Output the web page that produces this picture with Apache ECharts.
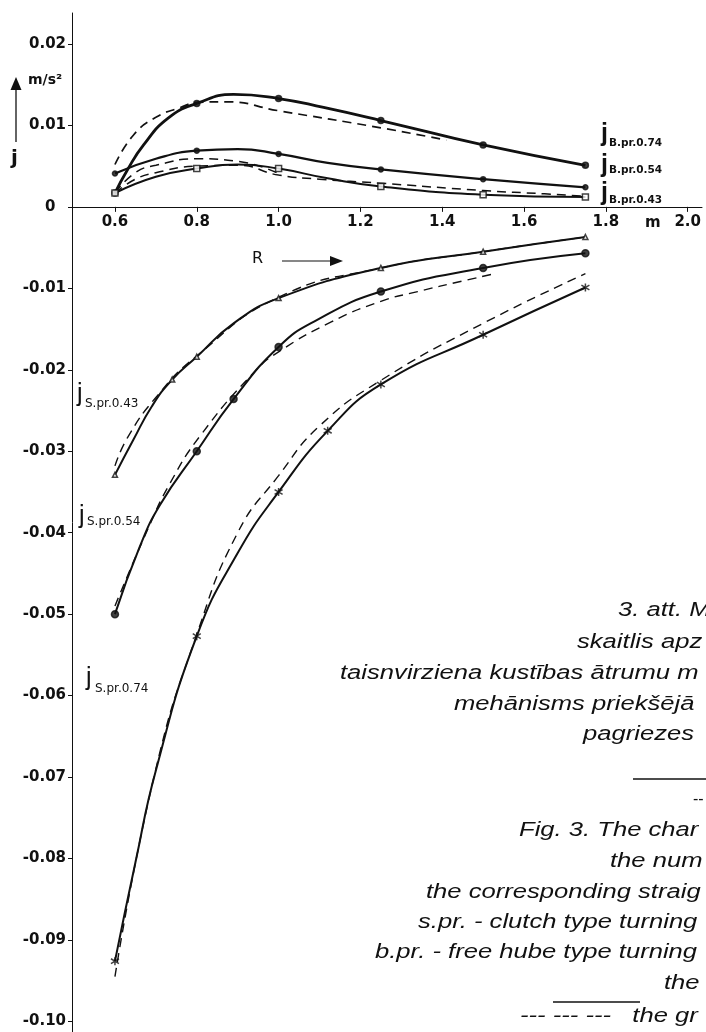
<!DOCTYPE html>
<html><head><meta charset="utf-8">
<script src="https://cdn.jsdelivr.net/npm/echarts@6/dist/echarts.min.js"></script>
<style>html,body{margin:0;padding:0;background:#fff}#c{width:706px;height:1032px}</style>
</head><body><div id="c"></div>
<script>
// ---- tick labels ----
const xTicks = [0.6, 0.8, 1.0, 1.2, 1.4, 1.6, 1.8, 2.0];
const yTicks = [0.02, 0.01, 0, -0.01, -0.02, -0.03, -0.04, -0.05, -0.06, -0.07, -0.08, -0.09, -0.10];

// ---- measured radii (marker positions) ----
const markR = [0.6, 0.8, 1.0, 1.25, 1.5, 1.75];

// ---- free hub type (B.pr.) : solid = theory, dashed = graph ----
const xB74 = [0.6, 0.63, 0.67, 0.73, 0.8, 0.89, 1.0, 1.11, 1.25, 1.5, 1.75];
const yB74 = [0.0017, 0.0045, 0.0076, 0.0109, 0.0127, 0.0138, 0.0133, 0.0122, 0.0106, 0.0076, 0.0051];
const xB74d = [0.6, 0.645, 0.7, 0.76, 0.8, 0.87, 1.0, 1.25, 1.41];
const yB74d = [0.0052, 0.0088, 0.0110, 0.0122, 0.0128, 0.0129, 0.0118, 0.0097, 0.0082];

const xB54 = [0.6, 0.7, 0.8, 0.9, 1.0, 1.12, 1.25, 1.5, 1.75];
const yB54 = [0.0041, 0.0059, 0.0069, 0.0071, 0.0065, 0.0054, 0.0046, 0.0034, 0.0024];
const xB54d = [0.6, 0.65, 0.7, 0.8, 0.9, 1.0];
const yB54d = [0.0017, 0.0042, 0.0051, 0.0059, 0.0056, 0.0041];

const xB43 = [0.6, 0.7, 0.8, 0.9, 1.0, 1.12, 1.25, 1.5, 1.75];
const yB43 = [0.0017, 0.0037, 0.0047, 0.0052, 0.0047, 0.0035, 0.0025, 0.0015, 0.0012];
const xB43d = [0.6, 0.65, 0.7, 0.8, 0.9, 1.0, 1.1, 1.25, 1.5, 1.65, 1.75];
const yB43d = [0.0017, 0.0034, 0.0042, 0.0050, 0.0051, 0.0039, 0.0034, 0.0029, 0.0020, 0.0016, 0.0013];

// ---- clutch type (S.pr.) ----
const xS43 = [0.6, 0.645, 0.69, 0.74, 0.8, 0.89, 1.0, 1.25, 1.5, 1.75];
const yS43 = [-0.0329, -0.0286, -0.0245, -0.0212, -0.0184, -0.0143, -0.0112, -0.0075, -0.0055, -0.0037];
const xS43d = [0.6, 0.63, 0.7, 0.8, 1.0, 1.25, 1.5, 1.75];
const yS43d = [-0.0318, -0.0284, -0.0234, -0.0183, -0.0111, -0.0075, -0.0055, -0.0037];

const xS54 = [0.6, 0.66, 0.71, 0.8, 0.89, 1.0, 1.09, 1.25, 1.5, 1.75];
const yS54 = [-0.0500, -0.0418, -0.0366, -0.0300, -0.0236, -0.0172, -0.0140, -0.0104, -0.0075, -0.0057];
const xS54d = [0.6, 0.68, 0.735, 0.81, 0.94, 1.0, 1.13, 1.25, 1.34, 1.45, 1.52];
const yS54d = [-0.0490, -0.0396, -0.0339, -0.0280, -0.0203, -0.0178, -0.0141, -0.0116, -0.0104, -0.0091, -0.0083];

const xS74 = [0.6, 0.65, 0.7, 0.8, 0.9, 1.0, 1.12, 1.25, 1.5, 1.75];
const yS74 = [-0.0926, -0.0805, -0.0692, -0.0527, -0.0425, -0.0350, -0.0275, -0.0218, -0.0157, -0.0099];
const xS74d = [0.6, 0.7, 0.8, 0.9, 1.0, 1.1, 1.25, 1.5, 1.75];
const yS74d = [-0.0945, -0.0690, -0.0525, -0.0400, -0.0330, -0.0269, -0.0213, -0.0143, -0.0082];

// ---- caption text ----
const captionLines = [
  'taisnvirziena kustības ātrumu m',
  '3. att. M', 'skaitlis apz', 'mehānisms priekšējā', 'pagriezes',
  'Fig. 3. The char', 'the num', 'the corresponding straig',
  's.pr. - clutch type turning', 'b.pr. - free hube type turning', 'the', '--- --- ---   the gr'
];

const INK = '#111';
function pairs(xs, ys) { return xs.map((x, i) => [x, ys[i]]); }
function curve(xs, ys, width, dashed) {
  return {
    type: 'line', data: pairs(xs, ys), smooth: 0.5,
    showSymbol: false, symbol: 'none', silent: true,
    lineStyle: { color: INK, width: width, type: dashed ? [9, 6] : 'solid' }, z: dashed ? 2 : 3
  };
}
function marks(xs, ys, list, symbol, size, filled) {
  return {
    type: 'scatter', data: pairs(xs, ys).filter(p => list.includes(p[0])),
    symbol: symbol, symbolSize: size, silent: true, z: 5,
    itemStyle: { color: filled ? INK : '#fff', borderColor: INK, borderWidth: 1.5 }
  };
}
const star = 'path://M5,0L5,10M0,2L10,8M0,8L10,2';

const series = [
  curve(xB74d, yB74d, 1.7, true), curve(xB54d, yB54d, 1.5, true), curve(xB43d, yB43d, 1.5, true),
  curve(xS43d, yS43d, 1.4, true), curve(xS54d, yS54d, 1.4, true), curve(xS74d, yS74d, 1.4, true),
  curve(xB74, yB74, 2.8), curve(xB54, yB54, 2.2), curve(xB43, yB43, 2.0),
  curve(xS43, yS43, 2.0), curve(xS54, yS54, 2.0), curve(xS74, yS74, 2.0),
  marks(xB74, yB74, markR, 'circle', 6, true),
  marks(xB54, yB54, markR, 'circle', 5, true),
  marks(xB43, yB43, markR, 'rect', 6, false),
  marks(xS43, yS43, markR.concat([0.74]), 'triangle', 5, false),
  marks(xS54, yS54, markR.concat([0.89]), 'circle', 7, true),
  marks(xS74, yS74, markR.concat([1.12]), star, 8, true)
];

const capFont = { fontStyle: 'italic', fontSize: 20, fontFamily: '"Liberation Sans", Arial, sans-serif' };
function capText(x, y, t) {
  return { type: 'text', x: x, y: y, scaleX: 1.28, silent: true,
    style: Object.assign({ text: t, fill: INK, align: 'left', verticalAlign: 'middle',
      textAlign: 'left', textVerticalAlign: 'middle' }, capFont) };
}
function txt(x, y, t, size, weight, family, align) {
  return { type: 'text', x: x, y: y, silent: true,
    style: { text: t, fill: INK, fontSize: size, fontWeight: weight || 'normal',
      fontFamily: family || '"DejaVu Sans", sans-serif', align: align || 'left', verticalAlign: 'middle',
      textAlign: align || 'left', textVerticalAlign: 'middle' } };
}
function seg(x1, y1, x2, y2, w) {
  return { type: 'line', silent: true, shape: { x1, y1, x2, y2 }, style: { stroke: INK, lineWidth: w || 1.2 } };
}
function tri(points) {
  return { type: 'polygon', silent: true, shape: { points }, style: { fill: INK } };
}
function jLabel(jx, jy, sx, sy, sub, subWeight, subSize) {
  return [
    txt(jx, jy, 'j', 25, subWeight === 'bold' ? 'bold' : 'normal', '"Liberation Sans", Arial, sans-serif'),
    txt(sx, sy, sub, subSize, subWeight, '"DejaVu Sans", sans-serif')
  ];
}

const graphics = [].concat(
  [seg(16, 142, 16, 88, 1.3), tri([[10.5, 90], [16, 77], [21.5, 90]]),
   txt(28, 80, 'm/s²', 14, 'bold'), txt(11, 159, 'j', 20, 'bold')],
  [txt(252, 259, 'R', 16, 'normal'), seg(282, 261, 332, 261, 1.2), tri([[330, 256], [343, 261], [330, 266]])],
  [txt(645, 223, 'm', 15, 'bold')],
  jLabel(601, 134, 609, 143, 'B.pr.0.74', 'bold', 10.5),
  jLabel(601, 165, 609, 170, 'B.pr.0.54', 'bold', 10.5),
  jLabel(601, 193, 609, 200, 'B.pr.0.43', 'bold', 10.5),
  jLabel(77, 394, 85, 404, 'S.pr.0.43', 'normal', 12),
  jLabel(79, 516, 87, 522, 'S.pr.0.54', 'normal', 12),
  jLabel(86, 678, 95, 689, 'S.pr.0.74', 'normal', 12),
  [capText(618, 610, captionLines[1]), capText(577, 642, captionLines[2]),
   capText(340, 673, captionLines[0]), capText(454, 704, captionLines[3]),
   capText(583, 734, captionLines[4]),
   seg(633, 779, 706, 779, 1.3), txt(693, 800, '--', 16, 'normal', '"Liberation Sans", Arial, sans-serif'),
   capText(519, 830, captionLines[5]), capText(610, 861, captionLines[6]),
   capText(426, 892, captionLines[7]), capText(418, 922, captionLines[8]),
   capText(375, 952, captionLines[9]), capText(664, 983, captionLines[10]),
   seg(553, 1002, 640, 1002, 1.3), capText(520, 1016, captionLines[11])]
);

const Y_MIN = -0.1013, Y_MAX = 0.0238, GRID_TOP = 13, GRID_H = 1032 - 13;
const zeroOffset = -(GRID_H * (0 - Y_MIN) / (Y_MAX - Y_MIN));

const chart = echarts.init(document.getElementById('c'), null, { renderer: 'canvas' });
chart.setOption({
  backgroundColor: '#fff',
  animation: false,
  grid: { left: 72, right: 4, top: GRID_TOP, bottom: 0, containLabel: false, outerBoundsMode: 'none' },
  xAxis: {
    type: 'value', min: 0.495, max: 2.035, position: 'bottom', offset: zeroOffset,
    axisLine: { onZero: false, lineStyle: { color: INK, width: 1 } },
    axisTick: { show: true, length: 5, customValues: xTicks, lineStyle: { color: INK } },
    axisLabel: { customValues: xTicks, margin: 8, color: INK, fontSize: 15, fontWeight: 'bold',
      fontFamily: '"DejaVu Sans", sans-serif', formatter: v => v.toFixed(1) },
    splitLine: { show: false }
  },
  yAxis: {
    type: 'value', min: Y_MIN, max: Y_MAX,
    axisLine: { show: true, onZero: false, lineStyle: { color: INK, width: 1 } },
    axisTick: { show: true, length: 4, customValues: yTicks, lineStyle: { color: INK } },
    axisLabel: { customValues: yTicks, margin: 6, color: INK, fontSize: 15, fontWeight: 'bold',
      fontFamily: '"DejaVu Sans", sans-serif', formatter: v => Math.abs(v) < 1e-9 ? '0  ' : v.toFixed(2) },
    splitLine: { show: false }
  },
  series: series,
  graphic: { elements: graphics }
});
</script>
</body></html>
